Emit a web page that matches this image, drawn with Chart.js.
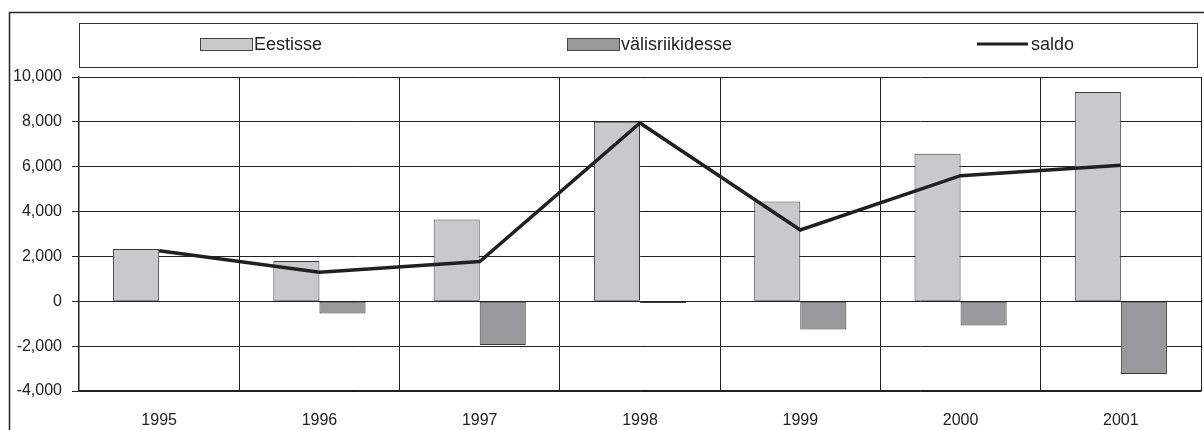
<!DOCTYPE html>
<html lang="et">
<head>
<meta charset="UTF-8">
<title>Eestisse / välisriikidesse / saldo</title>
<script src="https://cdn.jsdelivr.net/npm/chart.js"></script>
<style>
    html, body { margin: 0; padding: 0; background: #fff; }
    #wrap { position: relative; width: 1204px; height: 430px; }
</style>
</head>
<body>
<div id="wrap"><canvas id="graafik"></canvas></div>
<script>
// andmed
const aastad = ['1995', '1996', '1997', '1998', '1999', '2000', '2001'];
const eestisse = [2330, 1800, 3650, 8000, 4450, 6580, 9330];
const valisriikidesse = [0, -550, -1950, -80, -1260, -1085, -3240];
const saldo = [2250, 1300, 1770, 7950, 3180, 5600, 6070];
const nimed = ['Eestisse', 'välisriikidesse', 'saldo'];
const yTicks = [-4000, -2000, 0, 2000, 4000, 6000, 8000, 10000];

const font = 'Liberation Sans, Arial, sans-serif';

// raam ümber ja legend ülal
const taust = {
    id: 'taust',
    beforeDraw(chart) {
        const c = chart.ctx;
        c.save();
        c.strokeStyle = '#222';
        c.lineWidth = 1.5;
        c.strokeRect(9.5, 12.5, 1200, 430);
        c.restore();
    },
    afterDraw(chart) {
        const c = chart.ctx;
        const a = chart.chartArea;
        c.save();
        c.strokeStyle = '#333';
        c.lineWidth = 1;
        c.strokeRect(a.left + 0.5, 23.5, 1118, 44);

        // legendi osad
        const kohad = [200, 567, 977];
        c.font = '18px ' + font;
        c.textBaseline = 'middle';
        chart.data.datasets.forEach((ds, i) => {
            const x = kohad[i];
            if (ds.type === 'line') {
                c.strokeStyle = ds.borderColor;
                c.lineWidth = 3;
                c.beginPath();
                c.moveTo(x, 44);
                c.lineTo(x + 51, 44);
                c.stroke();
            } else {
                c.fillStyle = ds.backgroundColor;
                c.fillRect(x, 38, 52, 13);
                c.strokeStyle = '#444';
                c.lineWidth = 1;
                c.strokeRect(x + 0.5, 38.5, 52, 12);
            }
            c.fillStyle = '#222';
            c.fillText(ds.label, x + 54, 45);
        });
        c.restore();
    }
};

new Chart(document.getElementById('graafik'), {
    type: 'bar',
    data: {
        labels: aastad,
        datasets: [
            {
                label: nimed[0],
                data: eestisse,
                backgroundColor: '#c8c9cb',
                borderColor: '#3a3a3a',
                borderWidth: 1,
                borderSkipped: false,
                categoryPercentage: 0.575,
                barPercentage: 1,
                order: 1
            },
            {
                label: nimed[1],
                data: valisriikidesse,
                backgroundColor: '#98999d',
                borderColor: '#3a3a3a',
                borderWidth: 1,
                borderSkipped: false,
                categoryPercentage: 0.575,
                barPercentage: 1,
                order: 1
            },
            {
                type: 'line',
                label: nimed[2],
                data: saldo,
                borderColor: '#231f20',
                borderWidth: 3.5,
                pointRadius: 0,
                tension: 0,
                order: 0
            }
        ]
    },
    options: {
        responsive: true,
        maintainAspectRatio: false,
        animation: false,
        layout: { padding: { top: 77, right: 3, left: 0, bottom: 0 } },
        plugins: {
            legend: { display: false },
            tooltip: { enabled: false }
        },
        scales: {
            x: {
                offset: true,
                grid: { offset: true, color: '#222', lineWidth: 1, drawTicks: false },
                border: { color: '#222', width: 1.5 },
                ticks: { color: '#222', font: { family: font, size: 16 }, padding: 20 },
                afterFit(scale) { scale.height = 39; }
            },
            y: {
                min: -4000,
                max: 10000,
                afterBuildTicks(scale) { scale.ticks = yTicks.map(v => ({ value: v })); },
                grid: { color: '#222', lineWidth: 1, tickLength: 7 },
                border: { color: '#222', width: 1.5 },
                ticks: {
                    color: '#222',
                    font: { family: font, size: 16 },
                    padding: 10,
                    callback: v => v.toLocaleString('en-US')
                },
                afterFit(scale) { scale.width = 79; }
            }
        }
    },
    plugins: [taust]
});
</script>
</body>
</html>
